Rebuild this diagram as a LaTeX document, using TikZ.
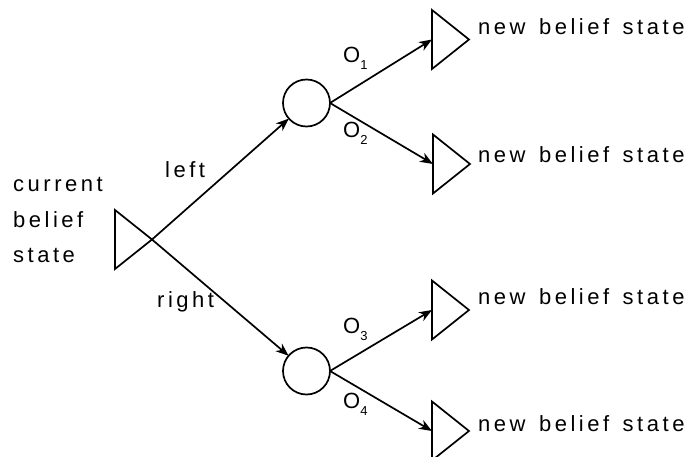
\documentclass[tikz,border=0pt]{standalone}
\usepackage{fontspec}
\setmainfont{Liberation Sans}[LetterSpace=16,WordSpace=1.4]
\usetikzlibrary{shapes.geometric,arrows.meta}
% observation label with a lowered index
\newcommand\obslabel[1]{O\raisebox{-7pt}{\fontsize{13}{13}\selectfont #1}}
\begin{document}
\begin{tikzpicture}[x=1pt,y=-1pt,
  belief/.style={draw, isosceles triangle, isosceles triangle stretches,
    shape border rotate=0, minimum height=37pt, minimum width=59pt,
    inner sep=0pt, outer sep=0pt, line width=1.7pt, anchor=west},
  chance/.style={draw, circle, minimum size=47pt, inner sep=0pt,
    outer sep=0pt, line width=1.7pt},
  link/.style={line width=1.7pt, -{Stealth[length=13pt,width=10pt,inset=4pt]}},
  lbl/.style={inner sep=0pt, anchor=base west,
    font=\fontsize{22}{35.5}\selectfont},
]
\useasboundingbox (0,0) rectangle (691,457);

% root belief state
\node[belief] (t0) at (115,239.5) {};
\node[lbl, align=left] (cur) at (13,263) {current\\belief\\state};

% chance nodes after each action
\node[chance] (c1) at (306.5,103) {};
\node[chance] (c2) at (306.5,371) {};

% successor belief states
\node[belief] (t1) at (432,39.5) {};
\node[belief] (t2) at (433,164) {};
\node[belief] (t3) at (432,310) {};
\node[belief] (t4) at (432,431) {};

\node[lbl] (n1) at (478,35) {new belief state};
\node[lbl] (n2) at (478,163) {new belief state};
\node[lbl] (n3) at (478,305) {new belief state};
\node[lbl] (n4) at (478,431) {new belief state};

% actions
\draw[link] (t0.east) -- (c1);
\draw[link] (t0.east) -- (c2);
\node[lbl] (aL) at (165,178) {left};
\node[lbl] (aR) at (157,307) {right};

% observations
\draw[link] (c1.east) -- (t1.west);
\draw[link] (c1.east) -- (t2.west);
\draw[link] (c2.east) -- (t3.west);
\draw[link] (c2.east) -- (t4.west);
\node[lbl] (o1) at (343,63) {\obslabel{1}};
\node[lbl] (o2) at (343,138) {\obslabel{2}};
\node[lbl] (o3) at (343,333) {\obslabel{3}};
\node[lbl] (o4) at (343,408) {\obslabel{4}};
\end{tikzpicture}
\end{document}
